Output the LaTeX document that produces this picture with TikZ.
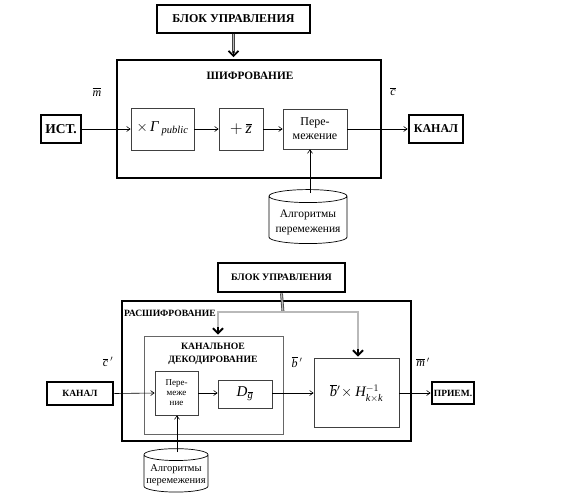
\documentclass[tikz,border=0pt]{standalone}
\usepackage{amsmath}
\usepackage{fontspec}
\setmainfont{Liberation Serif}
\usetikzlibrary{arrows.meta,shapes.geometric}
\newcommand{\fs}[1]{\fontsize{#1}{#1}\selectfont}
\begin{document}
\begin{tikzpicture}[x=1pt,y=-1pt,
 box/.style={draw=black!75, line width=0.8pt, inner sep=0pt, align=center},
 tbox/.style={draw=black, line width=2.8pt, inner sep=0pt, align=center, font=\bfseries},
 ar/.style={line width=0.6pt, -{Straight Barb[length=3.5pt,width=5pt]}},
 dbl/.style={draw=black!75, double=gray!55, double distance=1.2pt, line width=0.8pt},
 dtip/.style={line width=1.8pt, -{Straight Barb[length=5pt,width=10pt,line width=1.8pt]}},
 cyl/.style={cylinder, shape border rotate=90, aspect=0.2, draw, line width=0.7pt, inner sep=0pt, align=center},
 lbl/.style={inner sep=0pt, font=\fs{12}}
 ]
\useasboundingbox (0,0) rectangle (564,501);
% ---------- top ----------
\node[tbox, minimum width=153pt, minimum height=28pt, font=\bfseries\fs{12}] (blk1) at (233.5,19) {БЛОК УПРАВЛЕНИЯ};
\node[tbox, minimum width=264pt, minimum height=118pt] (shif) at (249,119) {};
\node[inner sep=0pt, font=\bfseries\fs{11.3}] (shift) at (250,76) {ШИФРОВАНИЕ};
\node[tbox, minimum width=40pt, minimum height=28pt, font=\bfseries\fs{13.5}] (ist) at (61,129) {ИСТ.};
\node[box, minimum width=63pt, minimum height=42pt, font=\fs{15}] (gam) at (162.5,129) {$\times$\,\textit{Γ}\,$_{\textit{public}}$};
\node[box, minimum width=44pt, minimum height=42pt, font=\fs{16}] (zz) at (241,129) {$+\,\overline{\textit{z}}$};
\node[box, minimum width=64pt, minimum height=40pt, font=\fs{12}] (per) at (315,129) {Пере-\\[2pt]межение};
\node[tbox, minimum width=54pt, minimum height=28pt, font=\bfseries\fs{12}] (kan) at (436,129) {КАНАЛ};
\node[cyl, minimum width=78pt, minimum height=54pt, font=\fs{11.5}] (cyl1) at (308,220) {\\[1pt]Алгоритмы\\[3pt]перемежения};
\node[lbl] (m) at (97,92) {$\overline{\textit{m}}$};
\node[lbl] (c) at (393,92) {$\overline{\textit{c}}$};
\draw[dbl] (blk1.south) -- ([yshift=6pt]shif.north -| blk1.south);
\draw[dtip] ([yshift=8pt]shif.north -| blk1.south) -- ([yshift=1.5pt]shif.north -| blk1.south);
\draw[ar] (ist.east) -- (gam.west);
\draw[ar] (gam.east) -- (zz.west);
\draw[ar] (zz.east) -- (per.west);
\draw[ar] (per.east) -- (kan.west);
\coordinate (c1top) at (310,193);
\draw[ar] (c1top) -- (c1top |- per.south);
% ---------- bottom ----------
\node[tbox, minimum width=127pt, minimum height=29pt, font=\bfseries\fs{9.9}] (blk2) at (281.5,277.5) {БЛОК УПРАВЛЕНИЯ};
\node[tbox, minimum width=289pt, minimum height=140pt] (ras) at (266.5,371) {};
\node[inner sep=0pt, anchor=west, font=\bfseries\fs{9.6}] (rast) at (124,313) {РАСШИФРОВАНИЕ};
\node[box, draw=black!60, minimum width=139pt, minimum height=98pt] (kd) at (213.5,385) {};
\node[inner sep=0pt, align=center, font=\bfseries\fs{9.7}] (kdt) at (213,353.5) {КАНАЛЬНОЕ\\[3pt]ДЕКОДИРОВАНИЕ};
\node[box, minimum width=43pt, minimum height=44pt, font=\fs{9}] (per2) at (176.5,393) {Пере-\\[1pt]меже\\[1pt]ние};
\node[box, minimum width=54pt, minimum height=28pt, font=\fs{15}] (dg) at (245,394) {$\textit{D}_{\overline{\textit{g}}}$};
\node[box, minimum width=85pt, minimum height=69pt, font=\fs{14.5}] (hb) at (356.5,393) {$\overline{\textit{b}}{}'\!\times \textit{H}^{-1}_{\textit{k}\times\textit{k}}$};
\node[tbox, minimum width=66pt, minimum height=23pt, font=\bfseries\fs{9.5}] (kan2) at (80,393.5) {КАНАЛ};
\node[tbox, minimum width=42pt, minimum height=22pt, font=\bfseries\fs{9.5}] (prm) at (453,393) {ПРИЕМ.};
\node[cyl, minimum width=64pt, minimum height=43pt, font=\fs{10.5}] (cyl2) at (176,473.5) {\\[0pt]Алгоритмы\\[2pt]перемежения};
\node[lbl] (c2) at (108,362) {$\overline{\textit{c}}\,'$};
\node[lbl] (b2) at (297,362) {$\overline{\textit{b}}\,'$};
\node[lbl] (m2) at (423,362) {$\overline{\textit{m}}\,'$};
\coordinate (jn) at (283,312);
\coordinate (kdin) at (218,336);
\coordinate (hbin) at (358,358);
\draw[dbl] (blk2.south) -- (jn);
\draw[dbl] ([yshift=6pt]kdin) |- (jn) -| ([yshift=6pt]hbin);
\draw[dtip] ([yshift=9pt]kdin) -- ([yshift=1.5pt]kdin);
\draw[dtip] ([yshift=9pt]hbin) -- ([yshift=1.5pt]hbin);
\draw[ar] (kan2.east) -- (per2.west);
\draw[ar] (per2.east) -- (per2.east -| dg.west);
\draw[ar] (per2.east -| dg.east) -- (hb.west);
\draw[ar] (hb.east) -- (prm.west);
\coordinate (c2top) at (177,452);
\draw[ar] (c2top) -- (c2top |- per2.south);
\end{tikzpicture}
\end{document}
